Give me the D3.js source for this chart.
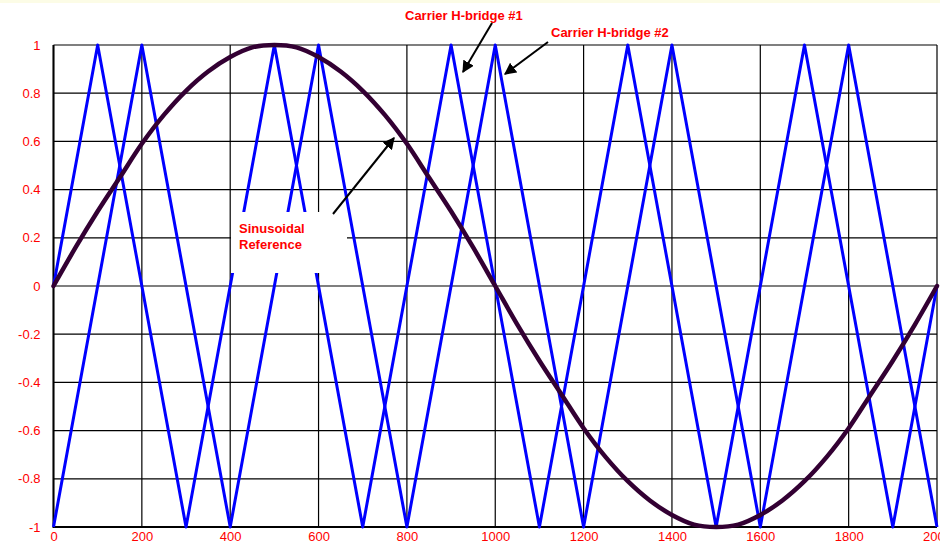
<!DOCTYPE html>
<html>
<head>
<meta charset="utf-8">
<script src="https://cdn.jsdelivr.net/npm/d3@7"></script>
<style>
  body { margin: 0; background: #fff; }
  svg { display: block; font-family: "Liberation Sans", Arial, sans-serif; }
</style>
</head>
<body>
<script>
  // carrier triangle vertices (x, value)
  var carrier1X = [0, 100, 300, 500, 700, 900, 1100, 1300, 1500, 1700, 1900, 2000];
  var carrier1Y = [0, 1, -1, 1, -1, 1, -1, 1, -1, 1, -1, 0];
  var carrier2X = [0, 200, 400, 600, 800, 1000, 1200, 1400, 1600, 1800, 2000];
  var carrier2Y = [-1, 1, -1, 1, -1, 1, -1, 1, -1, 1, -1];

  // sinusoidal reference, read every 50
  var sineX = [0, 50, 100, 150, 200, 250, 300, 350, 400, 450, 500, 550, 600, 650, 700, 750, 800, 850, 900, 950,
               1000, 1050, 1100, 1150, 1200, 1250, 1300, 1350, 1400, 1450, 1500, 1550, 1600, 1650, 1700, 1750, 1800, 1850, 1900, 1950, 2000];
  var sineY = [0, 0.16, 0.31, 0.45, 0.59, 0.71, 0.81, 0.89, 0.95, 0.99, 1, 0.99, 0.95, 0.89, 0.81, 0.71, 0.59, 0.45, 0.31, 0.16,
               0, -0.16, -0.31, -0.45, -0.59, -0.71, -0.81, -0.89, -0.95, -0.99, -1, -0.99, -0.95, -0.89, -0.81, -0.71, -0.59, -0.45, -0.31, -0.16, 0];

  var xTicks = [0, 200, 400, 600, 800, 1000, 1200, 1400, 1600, 1800, 2000];
  var xTickLabels = ["0", "200", "400", "600", "800", "1000", "1200", "1400", "1600", "1800", "2000"];
  var yTicks = [1, 0.8, 0.6, 0.4, 0.2, 0, -0.2, -0.4, -0.6, -0.8, -1];
  var yTickLabels = ["1", "0.8", "0.6", "0.4", "0.2", "0", "-0.2", "-0.4", "-0.6", "-0.8", "-1"];

  var width = 940, height = 543;

  var svg = d3.select('body').append('svg')
    .attr("width", width)
    .attr("height", height);

  svg.append("rect").attr("x", 0).attr("y", 0).attr("width", width).attr("height", 3).attr("fill", "#fcfce6");

  var defs = svg.append("defs");
  defs.append("marker")
    .attr("id", "arrow")
    .attr("viewBox", "0 0 10 10")
    .attr("refX", 9).attr("refY", 5)
    .attr("markerWidth", 6).attr("markerHeight", 6)
    .attr("markerUnits", "strokeWidth")
    .attr("orient", "auto")
    .append("path").attr("d", "M0,0L10,5L0,10Z").attr("fill", "#000");

  var x = d3.scaleLinear().domain([0, 2000]).range([53.5, 937]);
  var y = d3.scaleLinear().domain([-1, 1]).range([527, 45]);

  // grid
  var grid = svg.append("g");
  grid.selectAll("line.v").data(xTicks).enter().append("line")
    .attr("x1", function(d) { return x(d); }).attr("x2", function(d) { return x(d); })
    .attr("y1", y(1)).attr("y2", y(-1))
    .attr("stroke", "#000").attr("stroke-width", 1.2);
  grid.selectAll("line.h").data(yTicks).enter().append("line")
    .attr("x1", x(0)).attr("x2", x(2000))
    .attr("y1", function(d) { return y(d); }).attr("y2", function(d) { return y(d); })
    .attr("stroke", "#000").attr("stroke-width", 1.2);

  // axes labels
  var yAxis = svg.append("g")
    .attr("transform", "translate(" + x(0) + ",0)")
    .call(d3.axisLeft(y).tickValues(yTicks).tickSize(0).tickPadding(13)
      .tickFormat(function(d, i) { return yTickLabels[i]; }));
  var xAxis = svg.append("g")
    .attr("transform", "translate(0," + y(-1) + ")")
    .call(d3.axisBottom(x).tickValues(xTicks).tickSize(0).tickPadding(5)
      .tickFormat(function(d, i) { return xTickLabels[i]; }));
  [yAxis, xAxis].forEach(function(a) {
    a.select(".domain").remove();
    a.selectAll("text").attr("fill", "#ff0000").attr("font-size", 13)
      .attr("font-family", "Liberation Sans, Arial, sans-serif");
  });

  // thicker left and bottom axis lines
  svg.append("line").attr("x1", x(0)).attr("x2", x(0)).attr("y1", y(1)).attr("y2", y(-1) + 1)
    .attr("stroke", "#000").attr("stroke-width", 2);
  svg.append("line").attr("x1", x(0)).attr("x2", x(2000)).attr("y1", y(-1)).attr("y2", y(-1))
    .attr("stroke", "#000").attr("stroke-width", 2.2);

  var line = d3.line()
    .x(function(d) { return x(d[0]); })
    .y(function(d) { return y(d[1]); });

  var c1 = d3.zip(carrier1X, carrier1Y);
  var c2 = d3.zip(carrier2X, carrier2Y);
  svg.append("path").datum(c1).attr("d", line)
    .attr("fill", "none").attr("stroke", "#0000ff").attr("stroke-width", 3).attr("stroke-linejoin", "round");
  svg.append("path").datum(c2).attr("d", line)
    .attr("fill", "none").attr("stroke", "#0000ff").attr("stroke-width", 3).attr("stroke-linejoin", "round");

  var sine = d3.zip(sineX, sineY);
  svg.append("path").datum(sine).attr("d", line.curve(d3.curveCatmullRom))
    .attr("fill", "none").attr("stroke", "#330033").attr("stroke-width", 4.5).attr("stroke-linecap", "round");

  // annotation box
  svg.append("rect").attr("x", 231).attr("y", 212).attr("width", 116).attr("height", 61).attr("fill", "#fff");
  var ann = svg.append("g").attr("fill", "#ff0000").attr("font-size", 13).attr("font-weight", "bold");
  ann.append("text").attr("x", 239).attr("y", 233).text("Sinusoidal");
  ann.append("text").attr("x", 239).attr("y", 249).text("Reference");
  ann.append("text").attr("x", 405).attr("y", 20).text("Carrier H-bridge #1");
  ann.append("text").attr("x", 551).attr("y", 37).text("Carrier H-bridge #2");

  var arrows = [[333, 214, 394, 138], [492, 23, 463, 72], [548, 42, 505, 74]];
  svg.selectAll("line.arrow").data(arrows).enter().append("line")
    .attr("x1", function(d) { return d[0]; }).attr("y1", function(d) { return d[1]; })
    .attr("x2", function(d) { return d[2]; }).attr("y2", function(d) { return d[3]; })
    .attr("stroke", "#000").attr("stroke-width", 2)
    .attr("marker-end", "url(#arrow)");
</script>
</body>
</html>
